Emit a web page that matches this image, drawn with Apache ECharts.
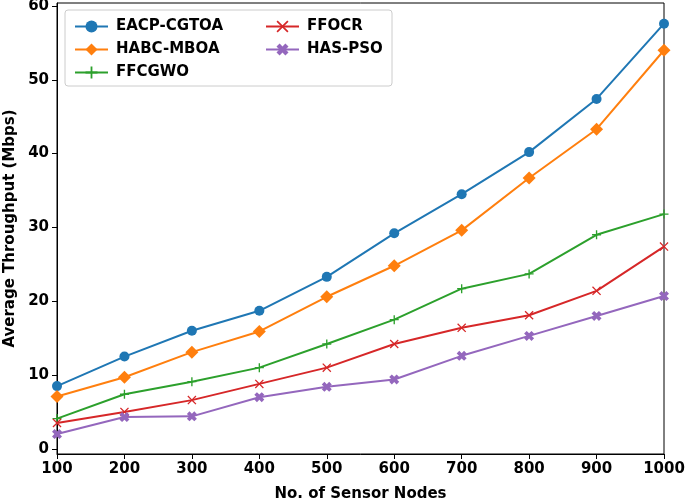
<!DOCTYPE html>
<html>
<head>
<meta charset="utf-8">
<script src="https://cdn.jsdelivr.net/npm/echarts@6/dist/echarts.min.js"></script>
<style>html,body{margin:0;padding:0;background:#fff}#c{width:685px;height:501px}</style>
</head>
<body>
<div id="c"></div>
<script>
const nodes = [100, 200, 300, 400, 500, 600, 700, 800, 900, 1000];
const eacpCgtoa = [8.5, 12.5, 16.0, 18.7, 23.3, 29.2, 34.5, 40.2, 47.4, 57.6];
const habcMboa  = [7.1, 9.7, 13.1, 15.9, 20.6, 24.8, 29.6, 36.7, 43.3, 54.0];
const ffcgwo    = [4.1, 7.4, 9.1, 11.0, 14.2, 17.5, 21.7, 23.7, 29.0, 31.8];
const ffocr     = [3.5, 5.0, 6.6, 8.8, 11.0, 14.2, 16.4, 18.1, 21.4, 27.4];
const hasPso    = [2.0, 4.3, 4.4, 7.0, 8.4, 9.4, 12.6, 15.3, 18.0, 20.7];
const yTicks = [0, 10, 20, 30, 40, 50, 60];

const FONT = 'DejaVu Sans';
const FS = 15;
const plusPath = 'path://M4.25,0 L5.75,0 L5.75,4.25 L10,4.25 L10,5.75 L5.75,5.75 L5.75,10 L4.25,10 L4.25,5.75 L0,5.75 L0,4.25 L4.25,4.25 Z';
const xPath = 'path://M0,1 L1,0 L5,4 L9,0 L10,1 L6,5 L10,9 L9,10 L5,6 L1,10 L0,9 L4,5 Z';
const xFilledPath = 'path://M0,2.6 L2.6,0 L5,2.4 L7.4,0 L10,2.6 L7.6,5 L10,7.4 L7.4,10 L5,7.6 L2.6,10 L0,7.4 L2.4,5 Z';

function pairs(vals){ return nodes.map((n,i)=>[n, vals[i]]); }
function mk(name, vals, color, symbol, size){
  return {
    name, type:'line', data: pairs(vals), symbol, symbolSize: size,
    showAllSymbol:true, clip:false,
    lineStyle:{color, width:2}, itemStyle:{color, borderWidth:0},
    emphasis:{disabled:true}, animation:false
  };
}
const series = [
  mk('EACP-CGTOA', eacpCgtoa, '#1f77b4', 'circle', 10),
  mk('HABC-MBOA', habcMboa, '#ff7f0e', 'diamond', 13),
  mk('FFCGWO', ffcgwo, '#2ca02c', plusPath, 9),
  mk('FFOCR', ffocr, '#d62728', xPath, 9),
  mk('HAS-PSO', hasPso, '#9467bd', xFilledPath, 10)
];
const legendText = {fontFamily:FONT, fontWeight:'bold', fontSize:FS, color:'#000', padding:[0,0,0,3], lineHeight:15};
const chart = echarts.init(document.getElementById('c'), null, {renderer:'canvas'});
chart.setOption({
  animation:false,
  backgroundColor:'#fff',
  grid:{left:57, right:21, top:3, bottom:47, show:true, borderColor:'#000', borderWidth:1, backgroundColor:'transparent', containLabel:false, outerBoundsMode:'none'},
  graphic:[{type:'rect', shape:{x:65, y:10, width:327, height:76, r:3}, style:{fill:'rgba(255,255,255,0.8)', stroke:'#cccccc', lineWidth:1}, z:50}],
  legend:[
    {data:['EACP-CGTOA','HABC-MBOA','FFCGWO'], orient:'vertical', left:69, top:14, itemWidth:33, itemHeight:15, itemGap:8, textStyle:legendText, selectedMode:false, z:60},
    {data:['FFOCR','HAS-PSO'], orient:'vertical', left:260, top:14, itemWidth:33, itemHeight:15, itemGap:8, textStyle:legendText, selectedMode:false, z:60}
  ],
  xAxis:{
    type:'value', min:100, max:1000, interval:100,
    name:'No. of Sensor Nodes', nameLocation:'middle', nameGap:33,
    nameTextStyle:{fontFamily:FONT, fontWeight:'bold', fontSize:FS, color:'#000'},
    axisLine:{show:true, onZero:false, lineStyle:{color:'#000', width:1}},
    axisTick:{show:true, length:5, inside:false, lineStyle:{color:'#000'}},
    axisLabel:{fontFamily:FONT, fontWeight:'bold', fontSize:FS, color:'#000', margin:8, formatter:(v)=>String(v)},
    splitLine:{show:false}
  },
  yAxis:{
    type:'value', min:-0.7, max:60.4,
    name:'Average Throughput (Mbps)', nameLocation:'middle', nameGap:39,
    nameTextStyle:{fontFamily:FONT, fontWeight:'bold', fontSize:FS, color:'#000'},
    axisLine:{show:true, onZero:false, lineStyle:{color:'#000', width:1}},
    axisTick:{show:true, length:5, customValues:yTicks, lineStyle:{color:'#000'}},
    axisLabel:{fontFamily:FONT, fontWeight:'bold', fontSize:FS, color:'#000', margin:8, customValues:yTicks, formatter:(v)=>String(v)},
    splitLine:{show:false}
  },
  series
});
</script>
</body>
</html>
